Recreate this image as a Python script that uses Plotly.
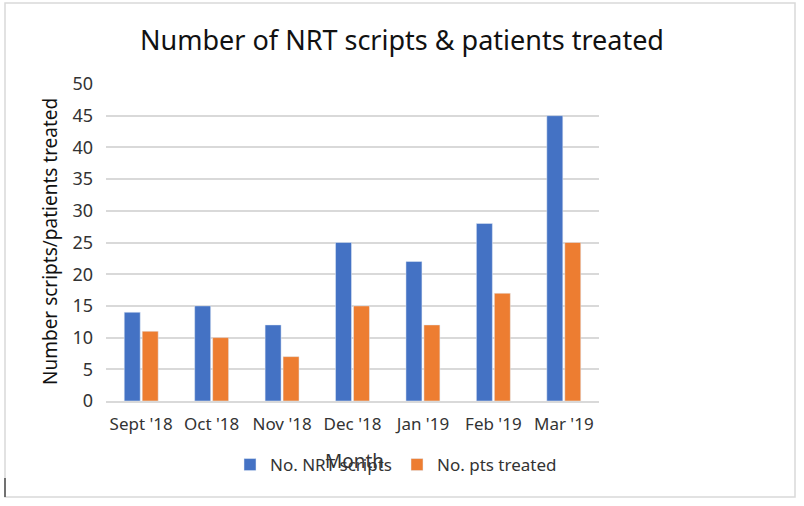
import plotly.graph_objects as go

months = ["Sept '18", "Oct '18", "Nov '18", "Dec '18", "Jan '19", "Feb '19", "Mar '19"]
nrt_scripts = [14, 15, 12, 25, 22, 28, 45]
pts_treated = [11, 10, 7, 15, 12, 17, 25]

W, H = 804, 506
L, R, T, B = 106, 599, 84, 401

def px(x):
    return (x - L) / (R - L)

def py(y):
    return (B - y) / (B - T)

FONT = "Noto Sans"
fig = go.Figure()
fig.add_trace(go.Bar(x=months, y=nrt_scripts, name="No. NRT scripts", marker_color="#4472C4"))
fig.add_trace(go.Bar(x=months, y=pts_treated, name="No. pts treated", marker_color="#ED7D31"))

fig.update_layout(
    width=W, height=H,
    margin=dict(l=L, r=W - R, t=T, b=H - B),
    paper_bgcolor="white", plot_bgcolor="white",
    barmode="group", bargap=0.49, bargroupgap=0.11,
    font=dict(family=FONT, color="#333333"),
    title=dict(text="Number of NRT scripts & patients treated", x=402 / W, xref="container",
               xanchor="center", y=1 - 41 / H, yref="container", yanchor="middle",
               font=dict(size=27, color="#111111", family=FONT)),
    showlegend=True,
    legend=dict(orientation="h", x=px(396), xanchor="center", y=py(465), yanchor="middle",
                font=dict(size=17, color="#333333"), bgcolor="rgba(0,0,0,0)",
                itemwidth=30, traceorder="normal"),
    xaxis=dict(showgrid=False, showline=True, linecolor="#D9D9D9", linewidth=1.5,
               ticks="", ticklabelstandoff=7, tickfont=dict(size=17, color="#333333")),
    yaxis=dict(range=[0, 50], dtick=5, showgrid=True, gridcolor="#D9D9D9", gridwidth=1.5,
               zeroline=False, showline=False, ticks="", ticklabelstandoff=12,
               tickfont=dict(size=18, color="#333333")),
    shapes=[
        dict(type="rect", xref="paper", yref="paper", x0=px(5), x1=px(795), y0=py(497), y1=py(3),
             line=dict(color="#D9D9D9", width=1.5), fillcolor="rgba(0,0,0,0)", layer="below"),
        dict(type="line", xref="paper", yref="paper", x0=px(5), x1=px(5), y0=py(497), y1=py(478),
             line=dict(color="black", width=1)),
    ],
    annotations=[
        dict(text="Month", xref="paper", yref="paper", x=px(354), y=py(461), xanchor="center",
             yanchor="middle", showarrow=False, font=dict(size=19, color="#333333")),
        dict(text="Number scripts/patients treated", xref="paper", yref="paper", x=px(50), y=py(242),
             xanchor="center", yanchor="middle", textangle=-90, showarrow=False,
             font=dict(size=19, color="#111111")),
    ],
)

fig.write_html("out.html", config={"displayModeBar": False},
               post_script="document.body.style.margin='0';")
